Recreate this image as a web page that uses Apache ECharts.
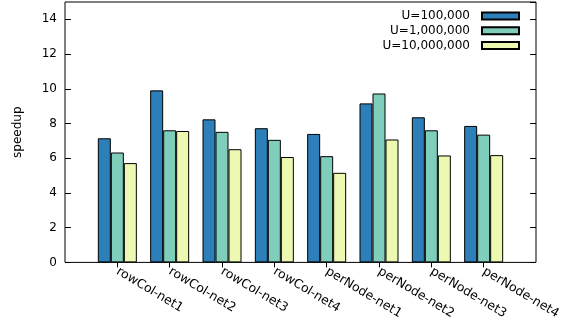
<!DOCTYPE html>
<html>
<head>
<meta charset="utf-8">
<script src="https://cdn.jsdelivr.net/npm/echarts@6/dist/echarts.min.js"></script>
<style>
  html, body { margin: 0; padding: 0; background: #fff; }
  #chart { width: 573px; height: 322px; }
</style>
</head>
<body>
<div id="chart"></div>
<script>
// Benchmark groups (padded with an empty slot at each end of the axis)
const categories = ['rowCol-net1', 'rowCol-net2', 'rowCol-net3', 'rowCol-net4',
                    'perNode-net1', 'perNode-net2', 'perNode-net3', 'perNode-net4'];
const seriesNames = ['U=100,000', 'U=1,000,000', 'U=10,000,000'];
const speedupU100k = [7.15, 9.91, 8.24, 7.73, 7.40, 9.16, 8.36, 7.86];
const speedupU1M   = [6.33, 7.61, 7.52, 7.06, 6.12, 9.73, 7.61, 7.36];
const speedupU10M  = [5.72, 7.57, 6.52, 6.07, 5.16, 7.08, 6.16, 6.18];
const yTicks = [0, 2, 4, 6, 8, 10, 12, 14];

const colors = ['#2c7fb8', '#7fcdbb', '#edf8b1'];
const font = 'DejaVu Sans';

const axisCats = [''].concat(categories, ['']);
const lastIdx = axisCats.length - 1;
const pad = arr => [null].concat(arr, [null]);
const allSeries = [speedupU100k, speedupU1M, speedupU10M];

const chart = echarts.init(document.getElementById('chart'), null, { renderer: 'canvas' });

const baseX = {
  type: 'category',
  data: axisCats,
  boundaryGap: false,
  axisLine: { show: false },
  axisTick: {
    show: true, inside: true, length: 5,
    interval: idx => idx > 0 && idx < lastIdx,
    lineStyle: { color: '#000' }
  },
  splitLine: { show: false }
};
const baseY = {
  type: 'value',
  min: 0, max: 15, interval: 2,
  axisLine: { show: false },
  axisTick: { show: true, inside: true, length: 6, lineStyle: { color: '#000' } },
  splitLine: { show: false }
};

chart.setOption({
  animation: false,
  backgroundColor: '#fff',
  textStyle: { fontFamily: font },
  grid: {
    left: 65, right: 37, top: 2, bottom: 59,
    show: true, borderColor: '#000', borderWidth: 1, backgroundColor: 'transparent'
  },
  legend: {
    orient: 'vertical',
    right: 53, top: 9,
    align: 'right',
    itemWidth: 37, itemHeight: 7,
    itemGap: 0.7,
    padding: 0,
    selectedMode: false,
    data: seriesNames.map(n => ({ name: n, icon: 'rect' })),
    textStyle: { fontFamily: font, fontSize: 12, color: '#000', lineHeight: 14, padding: [0, 7, 0, 0] }
  },
  xAxis: [
    Object.assign({}, baseX, {
      position: 'bottom',
      axisLabel: {
        show: true, rotate: -31, margin: 8,
        fontFamily: font, fontSize: 12.5, color: '#000',
        interval: 0
      }
    }),
    Object.assign({}, baseX, { position: 'top', axisLabel: { show: false } })
  ],
  yAxis: [
    Object.assign({}, baseY, {
      position: 'left',
      name: 'speedup',
      nameLocation: 'middle',
      nameGap: 41,
      nameRotate: 90,
      nameTextStyle: { fontFamily: font, fontSize: 12, color: '#000' },
      axisLabel: {
        margin: 8, fontFamily: font, fontSize: 12, color: '#000',
        showMaxLabel: false,
        formatter: v => (yTicks.indexOf(v) >= 0 ? String(v) : '')
      }
    }),
    Object.assign({}, baseY, { position: 'right', axisLabel: { show: false } })
  ],
  series: allSeries.map((vals, i) => ({
    name: seriesNames[i],
    type: 'bar',
    xAxisIndex: 0,
    yAxisIndex: 0,
    data: pad(vals),
    barWidth: 13,
    barGap: '0%',
    itemStyle: { color: colors[i], borderColor: '#000', borderWidth: 1 },
    emphasis: { disabled: true }
  }))
});
</script>
</body>
</html>
